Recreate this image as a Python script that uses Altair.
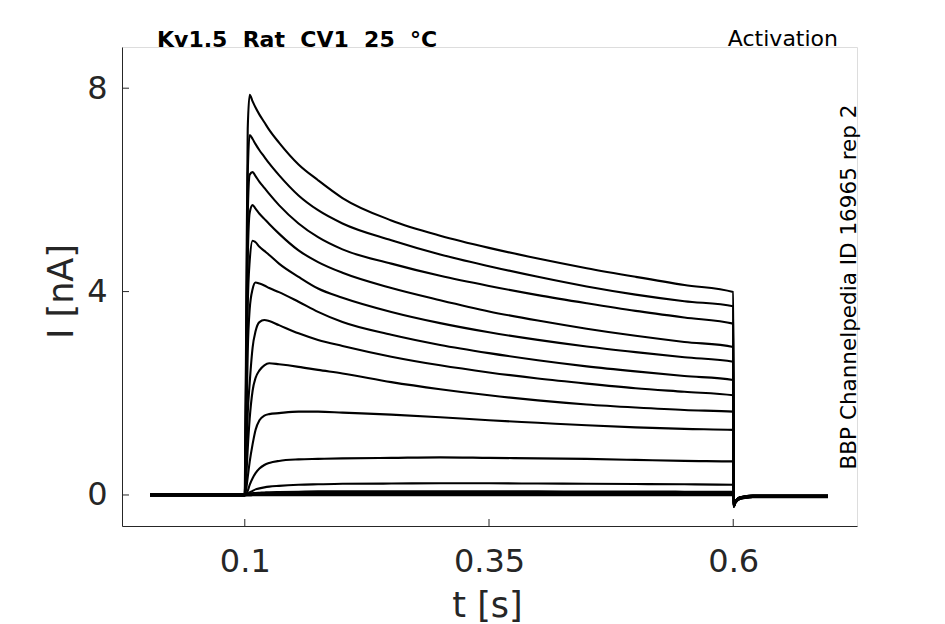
import altair as alt
import pandas as pd

# ---- data ----
t_pre = [0.003, 0.05, 0.1]
t_pulse = [0.1015, 0.103, 0.105, 0.108, 0.111, 0.115, 0.12, 0.125, 0.135, 0.155,
           0.175, 0.2, 0.25, 0.3, 0.35, 0.4, 0.45, 0.5, 0.55, 0.6]
t_tail = [0.6005, 0.602, 0.604, 0.607, 0.612, 0.62, 0.697]
i_tail = [-0.22, -0.15, -0.10, -0.065, -0.045, -0.03, -0.03]

hold = [0.0, 0.01, -0.01, 0.02, 0.0, -0.015, 0.015, 0.005, -0.005, 0.02,
        -0.01, 0.01, 0.02, 0.01, -0.01]

tr01 = [3.6, 7.2, 7.87, 7.74, 7.62, 7.48, 7.33, 7.18, 6.93, 6.50, 6.19, 5.84, 5.40, 5.10, 4.86, 4.65, 4.46, 4.29, 4.13, 3.99]
tr02 = [3.0, 6.3, 7.08, 7.0, 6.9, 6.78, 6.65, 6.52, 6.29, 5.89, 5.60, 5.34, 5.01, 4.73, 4.50, 4.29, 4.10, 3.94, 3.81, 3.71]
tr03 = [2.6, 5.5, 6.3, 6.35, 6.27, 6.16, 6.04, 5.92, 5.70, 5.34, 5.07, 4.83, 4.55, 4.31, 4.11, 3.93, 3.77, 3.62, 3.49, 3.37]
tr04 = [2.2, 4.6, 5.55, 5.70, 5.63, 5.53, 5.43, 5.33, 5.14, 4.81, 4.58, 4.37, 4.07, 3.83, 3.61, 3.43, 3.27, 3.13, 3.01, 2.91]
tr05 = [1.7, 3.7, 4.6, 5.0, 4.97, 4.88, 4.80, 4.72, 4.55, 4.29, 4.06, 3.88, 3.60, 3.38, 3.20, 3.05, 2.92, 2.81, 2.71, 2.62]
tr06 = [1.2, 2.8, 3.65, 4.05, 4.18, 4.16, 4.12, 4.07, 3.99, 3.80, 3.60, 3.40, 3.15, 2.95, 2.79, 2.65, 2.53, 2.43, 2.34, 2.26]
tr07 = [0.7, 1.6, 2.2, 2.9, 3.22, 3.40, 3.44, 3.42, 3.34, 3.18, 3.05, 2.93, 2.72, 2.55, 2.41, 2.29, 2.19, 2.10, 2.03, 1.96]
tr08 = [0.35, 0.9, 1.5, 2.05, 2.3, 2.45, 2.55, 2.59, 2.57, 2.52, 2.46, 2.39, 2.22, 2.08, 1.96, 1.86, 1.78, 1.72, 1.67, 1.64]
tr09 = [0.12, 0.35, 0.65, 1.0, 1.28, 1.47, 1.56, 1.59, 1.61, 1.64, 1.64, 1.62, 1.58, 1.53, 1.47, 1.42, 1.37, 1.33, 1.30, 1.28]
tr10 = [0.02, 0.08, 0.2, 0.33, 0.43, 0.52, 0.59, 0.63, 0.67, 0.70, 0.71, 0.72, 0.73, 0.74, 0.73, 0.72, 0.71, 0.69, 0.67, 0.66]
tr11 = [0.0, 0.02, 0.05, 0.08, 0.11, 0.13, 0.15, 0.165, 0.18, 0.20, 0.21, 0.22, 0.225, 0.23, 0.23, 0.225, 0.22, 0.215, 0.21, 0.20]
tr12 = [0.0, 0.01, 0.02, 0.03, 0.04, 0.045, 0.05, 0.055, 0.06, 0.065, 0.07, 0.07, 0.07, 0.07, 0.07, 0.07, 0.068, 0.066, 0.065, 0.065]
tr13 = [0.02, 0.025, 0.03, 0.035, 0.04, 0.04, 0.04, 0.04, 0.04, 0.04, 0.04, 0.04, 0.04, 0.04, 0.04, 0.04, 0.04, 0.04, 0.04, 0.04]
tr14 = [0.01, 0.01, 0.015, 0.02, 0.02, 0.02, 0.02, 0.02, 0.02, 0.02, 0.02, 0.02, 0.02, 0.02, 0.02, 0.02, 0.02, 0.02, 0.02, 0.02]
tr15 = [-0.01, -0.01, -0.01, -0.005, -0.005, -0.005, -0.005, -0.005, -0.005, -0.005, -0.005, -0.005, -0.005, -0.005, -0.005, -0.005, -0.005, -0.005, -0.005, -0.005]
traces = [tr01, tr02, tr03, tr04, tr05, tr06, tr07, tr08, tr09, tr10, tr11, tr12, tr13, tr14, tr15]

x_ticks = [0.1, 0.35, 0.6]
y_ticks = [0, 4, 8]

NB = "\u00a0"
title_text = "Kv1.5" + NB + " Rat" + NB + " CV1" + NB + " 25" + NB + " \u00b0C"
right_text = "Activation"
side_text = "BBP Channelpedia ID 16965 rep 2"

# ---- build table ----
rows = []
for k, tr in enumerate(traces):
    for t in t_pre:
        rows.append({"trace": k, "t": t, "I": hold[k]})
    for t, v in zip(t_pulse, tr):
        rows.append({"trace": k, "t": t, "I": v})
    for t, v in zip(t_tail, i_tail):
        rows.append({"trace": k, "t": t, "I": v + hold[k]})
df = pd.DataFrame(rows)

W, H = 735, 479
FONT = "DejaVu Sans"
AX = "#262626"

xscale = alt.Scale(domain=[-0.0257, 0.7267], nice=False, zero=False)
yscale = alt.Scale(domain=[-0.61, 8.81], nice=False, zero=False)

xaxis = alt.Axis(values=x_ticks, format=".2~f", ticks=False, tickSize=0, grid=False, labelFont=FONT,
                 labelFontSize=32, labelColor=AX, labelPadding=20, domainColor=AX,
                 domainWidth=1, title="t [s]", titleFont=FONT, titleFontSize=35,
                 titleFontWeight="normal", titleColor=AX, titleBaseline="alphabetic",
                 titleY=90, titleX=365, labelFlush=False)
yaxis = alt.Axis(values=y_ticks, format="d", ticks=False, tickSize=0, grid=False, labelFont=FONT,
                 labelFontSize=32, labelColor=AX, labelPadding=15, domainColor=AX,
                 domainWidth=1, title="I [nA]", titleFont=FONT, titleFontSize=35,
                 titleFontWeight="normal", titleColor=AX, titleBaseline="alphabetic",
                 titleX=-50, titleY=244, titleAngle=270, labelFlush=False)

lines = alt.Chart(df).mark_line(color="black", strokeWidth=2.1, interpolate="monotone").encode(
    x=alt.X("t:Q", scale=xscale, axis=xaxis),
    y=alt.Y("I:Q", scale=yscale, axis=yaxis),
    detail="trace:N",
)

xt = alt.Chart(pd.DataFrame({"t": x_ticks})).mark_rule(color=AX, strokeWidth=1).encode(
    x=alt.X("t:Q", scale=xscale, axis=xaxis),
    y=alt.value(H), y2=alt.value(H - 7),
)
yt = alt.Chart(pd.DataFrame({"I": y_ticks})).mark_rule(color=AX, strokeWidth=1).encode(
    y=alt.Y("I:Q", scale=yscale, axis=yaxis),
    x=alt.value(0), x2=alt.value(7),
)

title = alt.Chart(pd.DataFrame({"label": [title_text]})).mark_text(
    font=FONT, fontSize=22, fontWeight="bold", color="black", align="left", baseline="alphabetic"
).encode(text="label:N", x=alt.value(35), y=alt.value(0))

right = alt.Chart(pd.DataFrame({"label": [right_text]})).mark_text(
    font=FONT, fontSize=22, color="black", align="right", baseline="alphabetic"
).encode(text="label:N", x=alt.value(716), y=alt.value(-1))

side = alt.Chart(pd.DataFrame({"label": [side_text]})).mark_text(
    font=FONT, fontSize=21.5, color="black", align="center", baseline="alphabetic", angle=270
).encode(text="label:N", x=alt.value(733.5), y=alt.value(240))

chart = alt.layer(lines, xt, yt, title, right, side).properties(
    width=W, height=H,
    autosize=alt.AutoSizeParams(type="none"),
    padding={"left": 114, "top": 39, "right": 80, "bottom": 98},
).configure_view(stroke=None).configure(background="white")

chart.save("out.html", embed_options={"renderer": "svg", "actions": False})
